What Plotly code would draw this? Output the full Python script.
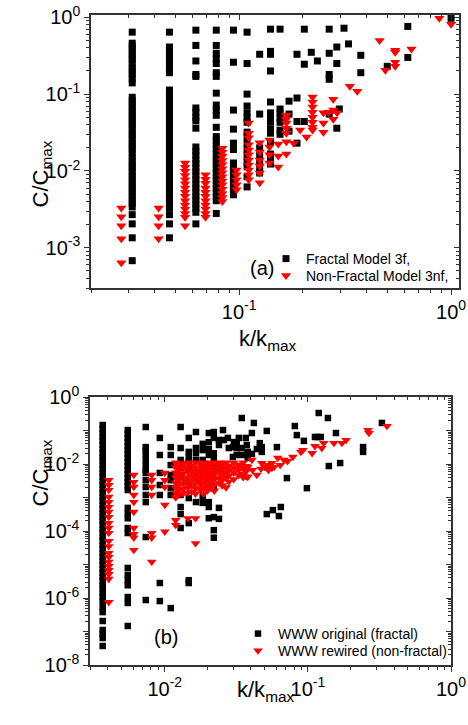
import math
import plotly.graph_objects as go

# ---------------- Panel (a): model networks ----------------
a_black_k = [0.0313, 0.0469, 0.0625, 0.078, 0.094, 0.109, 0.125, 0.1406, 0.156, 0.172,
             0.1875, 0.203, 0.219, 0.234, 0.266, 0.289, 0.297, 0.3125, 0.328, 0.375,
             0.5, 0.625, 1.0]
a_black_c = [
    [0.64, 0.46, 0.42, 0.38, 0.34, 0.31, 0.28, 0.25, 0.22, 0.20, 0.18, 0.16, 0.14,
     0.091, 0.082, 0.074, 0.067, 0.060, 0.054, 0.049, 0.044, 0.040, 0.036, 0.032, 0.029,
     0.026, 0.023, 0.021, 0.019, 0.017, 0.015, 0.0135, 0.012, 0.011, 0.0098, 0.0088,
     0.0079, 0.0071, 0.0064, 0.0058, 0.0052, 0.0047, 0.0042, 0.0038, 0.0034, 0.0027,
     0.00205, 0.00135, 0.00068],
    [0.64, 0.41, 0.37, 0.33, 0.30, 0.27, 0.24, 0.21, 0.19, 0.113, 0.10, 0.09, 0.081,
     0.073, 0.066, 0.059, 0.053, 0.048, 0.043, 0.039, 0.035, 0.031, 0.028, 0.025, 0.022,
     0.020, 0.018, 0.016, 0.0145, 0.013, 0.0117, 0.0105, 0.0094, 0.0085, 0.0076, 0.0068,
     0.0061, 0.0055, 0.0049, 0.0044, 0.004, 0.0036, 0.0033, 0.0027, 0.00205, 0.00135],
    [0.68, 0.43, 0.27, 0.18, 0.17, 0.066, 0.058, 0.050, 0.045, 0.036, 0.0205, 0.018,
     0.016, 0.014, 0.0125, 0.011, 0.0098, 0.0087, 0.0077, 0.0068, 0.006, 0.0053, 0.0047,
     0.0042, 0.0037, 0.0033, 0.0029, 0.00205],
    [0.68, 0.43, 0.34, 0.29, 0.25, 0.19, 0.17, 0.103, 0.072, 0.062, 0.053, 0.037, 0.028,
     0.025, 0.022, 0.0195, 0.0173, 0.0153, 0.0136, 0.012, 0.0107, 0.0095, 0.0084, 0.0075,
     0.0066, 0.0059, 0.0052, 0.0046, 0.0041, 0.0028],
    [0.68, 0.26, 0.062, 0.035, 0.023, 0.019, 0.0127, 0.0113, 0.01, 0.0089, 0.0079, 0.007,
     0.0062, 0.0055, 0.0049],
    [0.64, 0.25, 0.10, 0.070, 0.057, 0.049, 0.043, 0.032, 0.028, 0.023, 0.019, 0.0157,
     0.0131, 0.0113, 0.0084, 0.0062],
    [0.33, 0.055, 0.020, 0.0162, 0.013, 0.0109, 0.0094],
    [0.70, 0.36, 0.33, 0.20, 0.079, 0.057, 0.049, 0.043, 0.035, 0.031, 0.024, 0.0166,
     0.0143, 0.0123],
    [0.70, 0.064, 0.057, 0.049, 0.043, 0.034, 0.030],
    [0.081, 0.055, 0.033],
    [0.33, 0.089, 0.044, 0.023],
    [0.70, 0.245, 0.044],
    [0.35],
    [0.27],
    [0.70, 0.34, 0.18, 0.156, 0.055],
    [0.41, 0.25, 0.036],
    [0.064],
    [0.72],
    [0.45],
    [0.32, 0.19],
    [0.23],
    [0.76, 0.30],
    [0.97],
]

a_red_k = [0.0278, 0.0417, 0.0556, 0.0694, 0.0833, 0.0972, 0.111, 0.125, 0.139, 0.153,
           0.167, 0.181, 0.194, 0.208, 0.222, 0.25, 0.264, 0.278, 0.29, 0.333, 0.361,
           0.46, 0.49, 0.545, 0.65, 0.88, 1.0]
a_red_c = [
    [0.0033, 0.00253, 0.00193, 0.00131, 0.00064],
    [0.0033, 0.00253, 0.00193, 0.00131],
    [0.0127, 0.0112, 0.0099, 0.0087, 0.0077, 0.0068, 0.006, 0.0053, 0.0047, 0.0041,
     0.0036, 0.0032, 0.0028, 0.0025, 0.00193],
    [0.0089, 0.0078, 0.0069, 0.006, 0.0053, 0.0047, 0.0041, 0.0036, 0.0032, 0.0028, 0.0025],
    [0.0198, 0.0175, 0.0155, 0.0137, 0.0121, 0.0107, 0.0095, 0.0084, 0.0074, 0.0066,
     0.0058, 0.0051, 0.0045, 0.0040],
    [0.0103, 0.0089, 0.0077, 0.0066, 0.0057],
    [0.042, 0.031, 0.027, 0.022, 0.0187, 0.0162, 0.0139, 0.012, 0.0103, 0.0089, 0.0077],
    [0.0233, 0.0176, 0.0139, 0.0116, 0.0094, 0.0070],
    [0.0253, 0.0205, 0.0162, 0.0127],
    [0.0225, 0.0157, 0.0113],
    [0.053, 0.047, 0.042, 0.036, 0.031, 0.024, 0.0166],
    [0.023],
    [0.034],
    [0.0276],
    [0.0915, 0.079, 0.068, 0.058, 0.050, 0.043, 0.037, 0.034],
    [0.057, 0.042, 0.032],
    [0.058],
    [0.086, 0.062, 0.047],
    [0.057],
    [0.127],
    [0.109],
    [0.50],
    [0.205],
    [0.373, 0.35, 0.26, 0.23],
    [0.385],
    [0.97],
    [0.81],
]

# ---------------- Panel (b): WWW ----------------
b_black_k = [0.00368, 0.00551, 0.00736, 0.00923, 0.0110, 0.0129, 0.0147, 0.0165, 0.0184,
             0.0203, 0.022, 0.0239]
b_black_c = [
    [1.46e-1, 1.11e-1, 8.4e-2, 6.4e-2, 4.9e-2, 3.7e-2, 2.8e-2, 2.1e-2, 1.6e-2, 1.23e-2,
     9.3e-3, 7.1e-3, 5.4e-3, 4.1e-3, 3.1e-3, 2.36e-3, 1.8e-3, 1.36e-3, 1.04e-3, 7.9e-4,
     6.0e-4, 4.5e-4, 3.4e-4, 2.6e-4, 2.0e-4, 1.51e-4, 1.15e-4, 8.7e-5, 6.6e-5, 5.0e-5,
     3.8e-5, 2.9e-5, 2.2e-5, 1.67e-5, 1.27e-5, 9.7e-6, 7.3e-6, 5.6e-6, 4.2e-6, 3.2e-6,
     2.4e-6, 1.86e-6, 1.41e-6, 1.07e-6, 8.1e-7, 5.4e-7, 3.8e-7, 2.06e-7, 1.11e-7, 8.4e-8,
     6.4e-8, 3.7e-8],
    [1.03e-1, 7.9e-2, 6.0e-2, 4.5e-2, 3.4e-2, 2.6e-2, 2.0e-2, 1.51e-2, 1.15e-2, 8.7e-3,
     6.6e-3, 5.0e-3, 3.8e-3, 2.9e-3, 2.2e-3, 1.67e-3, 4.9e-4, 3.4e-4, 2.4e-4, 1.23e-4,
     8.7e-5, 7.9e-6, 4.9e-6, 3.4e-6, 2.4e-6, 1.07e-6, 7.1e-7, 1.46e-7],
    [1.27e-1, 3.2e-2, 2.6e-2, 1.86e-2, 1.32e-2, 9.3e-3, 6.6e-3, 5.4e-3, 3.3e-3, 2.06e-3,
     1.19e-3, 7.3e-4, 6.6e-5, 8.7e-7],
    [6.0e-2, 1.86e-2, 5.4e-3, 2.36e-3, 1.19e-3, 2.8e-6, 8.1e-7],
    [3.2e-2, 1.86e-2, 9.3e-3, 4.7e-3, 3.3e-3, 1.92e-3, 1.19e-3, 5.0e-7],
    [1.27e-1, 3.0e-2, 1.32e-2, 7.6e-3, 4.7e-3, 1.19e-3, 5.2e-4, 3.2e-4, 1.23e-4],
    [6.0e-2, 2.3e-2, 1.62e-2, 1.15e-2, 6.6e-3, 2.9e-3, 9.6e-4, 1.72e-4, 3.4e-6, 2.8e-6],
    [9.0e-2, 3.0e-2, 2.1e-2, 1.32e-2, 5.4e-3, 3.3e-3, 7.3e-4],
    [4.0e-2, 2.6e-2, 1.32e-2, 7.6e-3, 1.04e-3, 6.9e-4],
    [8.4e-2, 4.5e-2, 2.8e-2, 1.86e-2, 9.3e-3, 4.7e-3, 7.3e-4, 5.2e-4, 2.4e-4],
    [9.0e-2, 6.0e-2, 2.1e-2, 1.51e-2, 9.3e-3, 4.7e-3, 2.06e-3, 2.6e-4, 1.06e-4, 6.3e-5],
    [5.2e-2, 3.7e-2, 7.6e-3, 4.9e-4, 2.3e-4],
]
b_black_sparse_k = [0.0255, 0.0259, 0.0276, 0.028, 0.0299, 0.0299, 0.0304, 0.0318, 0.0318,
                    0.0318, 0.0329, 0.0345, 0.0345, 0.0345, 0.0368, 0.0374, 0.038, 0.038,
                    0.038, 0.0406, 0.0406, 0.0419, 0.044, 0.0461, 0.0476, 0.0476, 0.0516,
                    0.0607, 0.081, 0.0837, 0.0937, 0.112, 0.117, 0.123, 0.119, 0.138,
                    0.157, 0.243, 0.243, 0.329, 0.0516, 0.0569, 0.0627, 0.0647, 0.0713,
                    0.0984, 0.140, 0.168]
b_black_sparse_c = [0.103, 0.052, 0.060, 0.030, 0.0162, 0.032, 0.045, 0.045, 0.030,
                    0.0186, 0.060, 0.236, 0.030, 0.0186, 0.060, 0.037, 0.023, 0.0151,
                    0.020, 0.084, 0.020, 0.168, 0.028, 0.042, 0.032, 0.023, 0.097,
                    0.032, 0.136, 0.073, 0.049, 0.064, 0.064, 0.064, 0.333, 0.236,
                    0.084, 0.032, 0.023, 0.168, 3.2e-4, 4.2e-4, 2.8e-4, 5.2e-4, 3.8e-3,
                    1.9e-3, 8.7e-3, 1.07e-2]

b_red_k = [0.00406, 0.00607, 0.0081, 0.0100, 0.0119, 0.0125, 0.0134, 0.0145, 0.0154,
           0.0164, 0.0177, 0.0186, 0.0198, 0.0211, 0.0222, 0.0240, 0.0252, 0.0268,
           0.0280, 0.0303, 0.0327, 0.0353, 0.0370]
b_red_c = [
    [3.3e-3, 2.36e-3, 1.67e-3, 1.04e-3, 7.3e-4, 5.2e-4, 3.7e-4, 2.6e-4, 1.72e-4, 1.23e-4,
     8.7e-5, 5.0e-5, 3.5e-5, 2.2e-5, 1.67e-5, 1.2e-5, 9.0e-6, 6.8e-6, 5.2e-6, 3.7e-6, 7.5e-7],
    [4.7e-3, 2.9e-3, 2.06e-3, 1.19e-3, 7.3e-4, 3.7e-4, 1.23e-4, 8.1e-5, 6.3e-5, 2.7e-5],
    [4.7e-3, 3.3e-3, 2.06e-3, 1.19e-3, 8.7e-5, 6.3e-5, 1.2e-5],
    [5.4e-3, 3.3e-3, 2.06e-3, 6.0e-4, 9.5e-5],
    [1.1e-2, 8.0e-3, 5.5e-3, 4.0e-3, 2.8e-3, 2.0e-3, 1.4e-3, 1.0e-3, 2.1e-4, 1.5e-4],
    [9.5e-3, 7.0e-3, 4.8e-3, 3.4e-3, 2.4e-3, 1.7e-3, 1.2e-3],
    [1.05e-2, 7.5e-3, 5.2e-3, 3.7e-3, 2.6e-3, 1.8e-3, 1.3e-3],
    [1.1e-2, 8.0e-3, 5.8e-3, 4.0e-3, 2.9e-3, 2.0e-3, 1.4e-3, 2.4e-4],
    [9.0e-3, 6.5e-3, 4.5e-3, 3.2e-3, 2.2e-3, 1.5e-3],
    [1.1e-2, 7.8e-3, 5.5e-3, 3.8e-3, 2.7e-3, 1.9e-3, 1.3e-3, 2.4e-4, 4.3e-5],
    [1.0e-2, 7.2e-3, 5.0e-3, 3.5e-3, 2.5e-3, 1.7e-3],
    [1.1e-2, 8.0e-3, 5.6e-3, 4.0e-3, 2.8e-3, 1.9e-3, 1.3e-3],
    [9.5e-3, 6.8e-3, 4.8e-3, 3.3e-3, 2.3e-3, 1.6e-3],
    [1.1e-2, 7.8e-3, 5.5e-3, 3.8e-3, 2.7e-3, 1.9e-3],
    [1.0e-2, 7.0e-3, 5.0e-3, 3.5e-3, 2.4e-3, 1.6e-3],
    [1.1e-2, 7.8e-3, 5.5e-3, 3.8e-3, 2.7e-3],
    [9.5e-3, 6.8e-3, 4.8e-3, 3.3e-3, 2.3e-3],
    [1.1e-2, 7.8e-3, 5.5e-3, 3.9e-3, 2.0e-3],
    [9.0e-3, 6.5e-3, 4.5e-3, 3.0e-3],
    [1.1e-2, 7.8e-3, 5.5e-3, 3.5e-3],
    [9.5e-3, 6.8e-3, 4.6e-3],
    [1.1e-2, 7.6e-3, 5.0e-3, 4.0e-3],
    [8.6e-3, 6.0e-3, 4.2e-3],
]
b_red_sparse_k = [0.038, 0.038, 0.0406, 0.044, 0.0476, 0.0525, 0.056, 0.056, 0.0616,
                  0.068, 0.0785, 0.0893, 0.0922, 0.107, 0.112, 0.125, 0.129, 0.152,
                  0.173, 0.185, 0.263, 0.267, 0.357, 0.0345, 0.0345, 0.041, 0.047,
                  0.050, 0.053, 0.058, 0.064, 0.072]
b_red_sparse_c = [8.1e-3, 4.1e-3, 0.0132, 4.7e-3, 0.0107, 9.3e-3, 0.0107, 7.6e-3, 0.0151,
                  0.0132, 0.0162, 0.023, 0.026, 0.021, 0.034, 0.030, 0.042, 0.042,
                  0.042, 0.052, 0.103, 0.084, 0.136, 8.1e-3, 5.2e-3, 6.6e-3, 7.2e-3,
                  8.1e-3, 6.6e-3, 8.1e-3, 9.3e-3, 0.0121]

legend_a = ["Fractal Model 3f,", "Non-Fractal Model 3nf,"]
legend_b = ["WWW original (fractal)", "WWW rewired (non-fractal)"]


def flatten(ks, cs):
    xs, ys = [], []
    for k, col in zip(ks, cs):
        for c in col:
            xs.append(k)
            ys.append(c)
    return xs, ys


W, H = 468, 725
FONT = "Liberation Sans, Arial, sans-serif"


def dx(l, r):
    return [l / W, r / W]


def dy(t, b):
    return [1 - b / H, 1 - t / H]


fig = go.Figure()

ax, ay = flatten(a_black_k, a_black_c)
rx, ry = flatten(a_red_k, a_red_c)
fig.add_trace(go.Scatter(x=ax, y=ay, mode="markers", name=legend_a[0], legend="legend",
                         marker=dict(symbol="square", size=7, color="#000000", line=dict(width=0)),
                         xaxis="x", yaxis="y"))
fig.add_trace(go.Scatter(x=rx, y=ry, mode="markers", name=legend_a[1], legend="legend2",
                         marker=dict(symbol="triangle-down", size=9, color="#ff0000", line=dict(width=0)),
                         xaxis="x", yaxis="y"))

bx, by = flatten(b_black_k, b_black_c)
bx += b_black_sparse_k
by += b_black_sparse_c
brx, bry = flatten(b_red_k, b_red_c)
brx += b_red_sparse_k
bry += b_red_sparse_c
fig.add_trace(go.Scatter(x=bx, y=by, mode="markers", name=legend_b[0], legend="legend3",
                         marker=dict(symbol="square", size=6.5, color="#000000", line=dict(width=0)),
                         xaxis="x2", yaxis="y2"))
fig.add_trace(go.Scatter(x=brx, y=bry, mode="markers", name=legend_b[1], legend="legend4",
                         marker=dict(symbol="triangle-down", size=8.5, color="#ff0000", line=dict(width=0)),
                         xaxis="x2", yaxis="y2"))

# invisible single-point traces (outside the visible range) that register the
# mirrored top/right axes, which carry the inward ticks
fig.add_trace(go.Scatter(x=[1e-9], y=[1e-9], mode="markers", opacity=0, showlegend=False,
                         hoverinfo="skip", xaxis="x3", yaxis="y"))
fig.add_trace(go.Scatter(x=[1e-9], y=[1e-9], mode="markers", opacity=0, showlegend=False,
                         hoverinfo="skip", xaxis="x", yaxis="y3"))
fig.add_trace(go.Scatter(x=[1e-9], y=[1e-9], mode="markers", opacity=0, showlegend=False,
                         hoverinfo="skip", xaxis="x4", yaxis="y2"))
fig.add_trace(go.Scatter(x=[1e-9], y=[1e-9], mode="markers", opacity=0, showlegend=False,
                         hoverinfo="skip", xaxis="x2", yaxis="y4"))


def minors(e0, e1):
    return [m * 10.0 ** e for e in range(e0, e1) for m in range(2, 10)]


def sup(e):
    return "10<sup>%d</sup>" % e


LINE = "#333333"
common = dict(type="log", showgrid=False, zeroline=False, showline=True, linecolor=LINE,
              linewidth=1.5, tickcolor=LINE, tickwidth=1.2, automargin=False,
              mirror=True, ticks="outside", ticklen=5,
              tickfont=dict(family=FONT, size=20, color="#000000"))

xa_range = [math.log10(0.02), math.log10(1.09)]
ya_range = [math.log10(3e-4), math.log10(1.07)]
xb_range = [math.log10(0.003), 0.0]
yb_range = [-8.0, 0.0]

xa_dom, ya_dom = dx(91, 459), dy(15, 288)
xb_dom, yb_dom = dx(90, 451), dy(397, 665)

xa_ticks = [0.1, 1.0]
ya_ticks = [1.0, 0.1, 0.01, 0.001]
xb_ticks = [0.01, 0.1, 1.0]
yb_ticks = [10.0 ** -e for e in range(0, 9)]


def axis(rng, dom, anchor, tickvals, ticktext, minorvals):
    d = dict(common)
    d.update(range=rng, domain=dom, anchor=anchor, tickmode="array", tickvals=tickvals,
             ticktext=ticktext,
             minor=dict(tickmode="array", tickvals=minorvals, ticks="outside", ticklen=3,
                        tickcolor=LINE, tickwidth=1, showgrid=False))
    return d


def mirror_axis(rng, anchor, overlay, side, tickvals, minorvals):
    return dict(type="log", range=rng, anchor=anchor, overlaying=overlay, side=side,
                showgrid=False, zeroline=False, showline=False, showticklabels=False,
                automargin=False, tickmode="array", tickvals=tickvals,
                ticks="inside", ticklen=5, tickcolor=LINE, tickwidth=1.2,
                minor=dict(tickmode="array", tickvals=minorvals, ticks="inside", ticklen=3,
                           tickcolor=LINE, tickwidth=1, showgrid=False))


def leg(xpx, ypx):
    return dict(x=xpx / W, y=1 - ypx / H, xanchor="left", yanchor="middle",
                bgcolor="rgba(0,0,0,0)", borderwidth=0,
                font=dict(family=FONT, size=14, color="#000000"))


fig.update_layout(
    template="none",
    width=W, height=H, margin=dict(l=0, r=0, t=0, b=0, autoexpand=False),
    paper_bgcolor="white", plot_bgcolor="white",
    font=dict(family=FONT, color="#000000"),
    xaxis=axis(xa_range, xa_dom, "y", xa_ticks, [sup(-1), sup(0)], minors(-2, 1)),
    yaxis=axis(ya_range, ya_dom, "x", ya_ticks, [sup(0), sup(-1), sup(-2), sup(-3)], minors(-4, 1)),
    xaxis2=axis(xb_range, xb_dom, "y2", xb_ticks, [sup(-2), sup(-1), sup(0)], minors(-3, 1)),
    yaxis2=axis(yb_range, yb_dom, "x2", yb_ticks,
                [sup(-e) if e % 2 == 0 else "" for e in range(0, 9)], minors(-8, 1)),
    xaxis3=mirror_axis(xa_range, "y", "x", "top", xa_ticks, minors(-2, 1)),
    yaxis3=mirror_axis(ya_range, "x", "y", "right", ya_ticks, minors(-4, 1)),
    xaxis4=mirror_axis(xb_range, "y2", "x2", "top", xb_ticks, minors(-3, 1)),
    yaxis4=mirror_axis(yb_range, "x2", "y2", "right", yb_ticks, minors(-8, 1)),
    legend=leg(266, 259),
    legend2=leg(266, 276),
    legend3=leg(238, 634),
    legend4=leg(238, 651),
    showlegend=True,
)

ann_font = dict(family=FONT, size=22, color="#000000")
fig.add_annotation(x=262 / W, y=1 - 268 / H, xref="paper", yref="paper", text="(a)",
                   showarrow=False, font=dict(family=FONT, size=20, color="#000000"))
fig.add_annotation(x=166 / W, y=1 - 650 / H, xref="paper", yref="paper", text="(b)",
                   showarrow=False, font=dict(family=FONT, size=20, color="#000000"))
fig.add_annotation(x=268 / W, y=1 - 340 / H, xref="paper", yref="paper",
                   text="k/k<sub>max</sub>", showarrow=False, font=ann_font)
fig.add_annotation(x=266 / W, y=1 - 707 / H, xref="paper", yref="paper",
                   text="k/k<sub>max</sub>", showarrow=False, font=ann_font)
fig.add_annotation(x=25 / W, y=1 - 139 / H, xref="paper", yref="paper",
                   text="C/C<sub>max</sub>", showarrow=False, textangle=-90, font=ann_font)
fig.add_annotation(x=25 / W, y=1 - 509 / H, xref="paper", yref="paper",
                   text="C/C<sub>max</sub>", showarrow=False, textangle=-90, font=ann_font)

fig.write_html("out.html", config={"displayModeBar": False},
               post_script="document.body.style.margin='0px';")
